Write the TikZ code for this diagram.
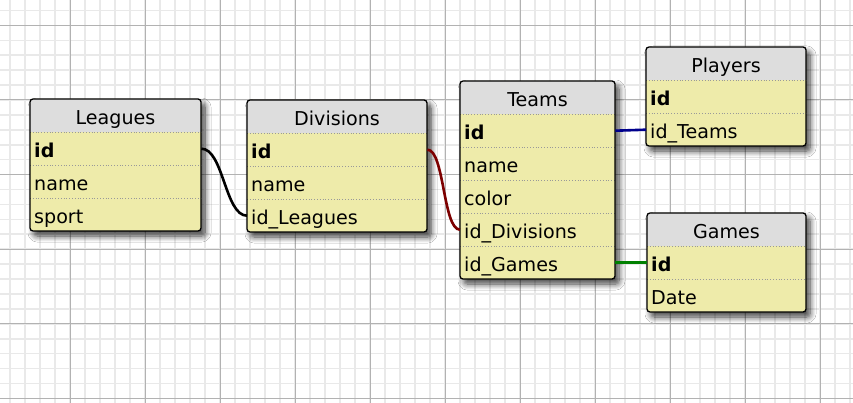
\documentclass[tikz,border=0pt]{standalone}
\usepackage{fontspec}
\setmainfont{DejaVu Sans}
\usetikzlibrary{shadows.blur}
\definecolor{rowfill}{RGB}{238,235,170}
\definecolor{hdrfill}{RGB}{221,221,221}
\definecolor{minorgrid}{RGB}{233,233,233}
\definecolor{majorgrid}{RGB}{178,178,178}
\definecolor{linkred}{RGB}{125,0,0}
\definecolor{linkblue}{RGB}{0,0,140}
\definecolor{linkgreen}{RGB}{0,128,0}
\tikzset{
  erdtext/.style={font=\fontsize{19.1}{22}\selectfont, text height=21pt, text depth=4pt, inner ysep=0pt, minimum height=33pt},
  hdrtext/.style={erdtext, inner xsep=0pt},
  rowtext/.style={erdtext, inner xsep=4pt, align=left, anchor=north west},
  sepline/.style={draw=gray!80, dotted, line width=0.8pt},
  border/.style={draw=black, line width=1.3pt, rounded corners=3pt},
  tabshadow/.style={blur shadow={shadow xshift=4pt, shadow yshift=-5pt, shadow blur radius=6pt, shadow blur steps=8, shadow opacity=75}},
  link/.style={line width=2.6pt}
}
% #1 name, #2 x, #3 top, #4 width, #5 number of rows, #6 title
\newcommand\erdframe[6]{%
  \pgfmathsetmacro\erdh{33*(#5+1)}%
  \path[fill=rowfill, rounded corners=3pt, tabshadow] (#2,#3) rectangle ++(#4,\erdh);
  \begin{scope}
    \clip[rounded corners=3pt] (#2,#3) rectangle ++(#4,\erdh);
    \fill[hdrfill] (#2,#3) rectangle ++(#4,33);
  \end{scope}
  \node[hdrtext, minimum width=#4pt, anchor=north] (#1-h) at ({#2+#4/2},#3) {#6};
  \foreach \k in {1,...,#5} {\draw[sepline] (#2,{#3+33*\k}) -- ++(#4,0);}
}
% #1 node name, #2 x, #3 top, #4 width, #5 row index, #6 text
\newcommand\erdrow[6]{%
  \pgfmathsetmacro\erdtw{#4-8}%
  \node[rowtext, minimum width=#4pt, text width=\erdtw pt] (#1) at (#2,{#3+33*#5}) {#6};
}
\newcommand\erdborder[4]{%
  \draw[border] (#1,#2) rectangle ++(#3,{33*(#4+1)});
}
\begin{document}
\begin{tikzpicture}[x=1pt, y=-1pt]
\useasboundingbox (0,0) rectangle (853,403);
\fill[white] (0,0) rectangle (853,403);
% grid
\foreach \x in {10,25,...,850} \draw[minorgrid, line width=1.6pt] (\x,0) -- (\x,403);
\foreach \j in {-1,...,25} \draw[minorgrid, line width=1.6pt] (0,{25.4+14.92*\j}) -- (853,{25.4+14.92*\j});
\foreach \x in {-5,70,...,850} \draw[majorgrid, line width=1pt] (\x,0) -- (\x,403);
\foreach \j in {0,...,5} \draw[majorgrid, line width=1pt] (0,{25.4+74.6*\j}) -- (853,{25.4+74.6*\j});

% Leagues
\erdframe{L}{30}{99}{171}{3}{Leagues}
\erdrow{L-id}{30}{99}{171}{1}{\textbf{id}}
\erdrow{L-name}{30}{99}{171}{2}{name}
\erdrow{L-sport}{30}{99}{171}{3}{sport}
\erdborder{30}{99}{171}{3}

% Divisions
\erdframe{D}{247}{100}{180}{3}{Divisions}
\erdrow{D-id}{247}{100}{180}{1}{\textbf{id}}
\erdrow{D-name}{247}{100}{180}{2}{name}
\erdrow{D-idl}{247}{100}{180}{3}{id\_Leagues}
\erdborder{247}{100}{180}{3}

% Teams
\erdframe{T}{460}{81}{155}{5}{Teams}
\erdrow{T-id}{460}{81}{155}{1}{\textbf{id}}
\erdrow{T-name}{460}{81}{155}{2}{name}
\erdrow{T-color}{460}{81}{155}{3}{color}
\erdrow{T-idd}{460}{81}{155}{4}{id\_Divisions}
\erdrow{T-idg}{460}{81}{155}{5}{id\_Games}
\erdborder{460}{81}{155}{5}

% Players
\erdframe{P}{646}{47}{160}{2}{Players}
\erdrow{P-id}{646}{47}{160}{1}{\textbf{id}}
\erdrow{P-idt}{646}{47}{160}{2}{id\_Teams}
\erdborder{646}{47}{160}{2}

% Games
\erdframe{G}{647}{213}{159}{2}{Games}
\erdrow{G-id}{647}{213}{159}{1}{\textbf{id}}
\erdrow{G-date}{647}{213}{159}{2}{Date}
\erdborder{647}{213}{159}{2}

% links
\draw[link, black] (L-id.east) .. controls +(22,0) and +(-22,0) .. (D-idl.west);
\draw[link, linkred] (D-id.east) .. controls +(17,0) and +(-17,0) .. (T-idd.west);
\draw[link, linkblue] (T-id.east) -- (P-idt.west);
\draw[link, linkgreen] (T-idg.east) -- (G-id.west);
\end{tikzpicture}
\end{document}
